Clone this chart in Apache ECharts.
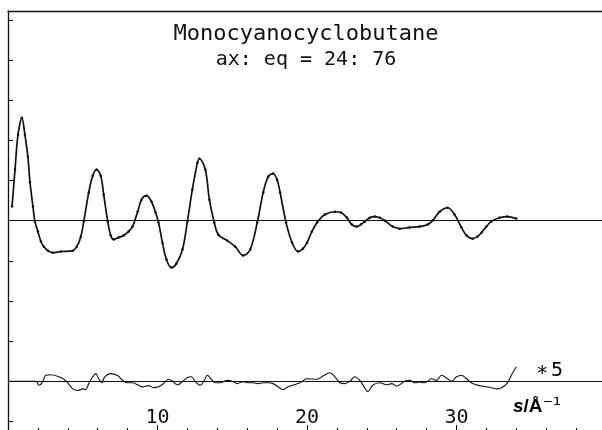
<!DOCTYPE html>
<html>
<head>
<meta charset="utf-8">
<script src="https://cdn.jsdelivr.net/npm/echarts@6/dist/echarts.min.js"></script>
<style>
  html, body { margin: 0; padding: 0; background: #fff; }
  #main { width: 602px; height: 430px; }
</style>
</head>
<body>
<div id="main"></div>
<script>
// molecular intensity, experimental curve (s in 1/Angstrom, intensity in tick units)
var mainS = [0.27,0.47,0.67,0.93,1.13,1.33,1.47,1.67,1.8,2.0,2.2,2.4,2.67,3.0,3.53,4.33,4.6,4.87,5.07,5.4,
  5.67,5.93,6.2,6.4,6.67,6.87,7.07,7.4,7.73,8.07,8.33,8.67,8.93,9.27,9.6,9.87,10.07,10.33,10.6,10.93,
  11.27,11.67,12.0,12.33,12.67,12.8,13.2,13.47,13.8,14.07,14.67,15.2,15.73,16.2,16.67,17.07,17.4,17.73,18.0,18.2,
  18.6,19.0,19.4,19.73,20.0,20.33,20.67,21.2,21.87,22.27,22.67,23.0,23.33,23.6,23.87,24.2,24.53,24.87,25.2,25.73,
  26.2,26.87,27.53,28.07,28.4,28.87,29.4,29.87,30.33,30.67,31.07,31.4,31.67,32.0,32.33,32.87,33.4,34.0];
var mainI = [0.35,1.27,2.14,2.56,2.14,1.59,0.95,0.35,-0.02,-0.27,-0.52,-0.65,-0.75,-0.8,-0.77,-0.75,-0.65,-0.4,-0.02,0.7,
  1.12,1.27,1.12,0.65,-0.02,-0.37,-0.47,-0.42,-0.37,-0.27,-0.15,0.22,0.52,0.62,0.47,0.2,-0.05,-0.55,-0.97,-1.17,
  -1.07,-0.72,-0.02,0.77,1.44,1.54,1.27,0.52,-0.05,-0.35,-0.5,-0.65,-0.87,-0.72,-0.05,0.7,1.09,1.17,1.02,0.7,
  -0.05,-0.55,-0.77,-0.7,-0.55,-0.27,-0.05,0.15,0.22,0.2,0.07,-0.1,-0.15,-0.1,-0.02,0.07,0.1,0.07,0,-0.15,
  -0.2,-0.17,-0.15,-0.1,0,0.22,0.32,0.15,-0.17,-0.37,-0.45,-0.4,-0.3,-0.15,-0.02,0.07,0.1,0.05];

// difference curve (x5)
var residS = [0.07,1.87,2.07,2.33,2.53,2.87,3.4,3.73,4.0,4.33,4.67,5.0,5.2,5.4,5.67,5.87,6.07,6.27,6.47,6.87,
  7.33,7.67,8.0,8.33,8.67,9.0,9.4,9.73,10.07,10.4,10.73,11.0,11.33,11.67,12.0,12.27,12.53,12.87,13.13,13.33,
  13.6,13.87,14.2,14.67,15.0,15.33,15.73,16.07,16.4,16.73,17.07,17.4,17.73,18.07,18.4,18.73,19.07,19.53,20.0,20.67,
  21.07,21.53,21.87,22.2,22.53,22.87,23.2,23.53,23.87,24.07,24.4,24.87,25.33,25.67,26.0,26.2,26.53,26.87,27.2,27.53,
  27.87,28.33,28.67,29.0,29.33,29.67,30.0,30.33,30.67,31.07,31.67,32.2,32.73,33.07,33.4,33.73,34.0];
var residI = [0,0,-0.1,-0.01,0.15,0.16,0.11,0.05,-0.04,-0.19,-0.23,-0.19,-0.21,-0.06,0.11,0.19,0.06,-0.04,0.11,0.19,
  0.14,0.02,-0.04,-0.04,-0.09,-0.14,-0.11,-0.16,-0.14,-0.06,0.05,0,-0.09,-0.01,0.09,0.11,-0.01,-0.1,0.02,0.15,
  0.05,-0.04,-0.04,0.02,0,-0.06,-0.01,-0.04,-0.04,-0.06,-0.04,-0.04,-0.06,-0.14,-0.21,-0.14,-0.1,-0.04,0.06,0.05,
  0.13,0.21,0.11,-0.04,-0.06,0,0.11,0.02,-0.17,-0.26,-0.1,-0.04,-0.09,-0.06,-0.12,-0.09,0,0.02,-0.04,-0.02,
  -0.04,0.06,0.02,0.15,0.08,0,0.11,0.15,0.06,-0.06,-0.12,-0.15,-0.19,-0.15,-0.04,0.19,0.36];

var xMajorLabels = [10, 20, 30];

function pairs(xs, ys) {
  var out = [];
  for (var i = 0; i < xs.length; i++) out.push([xs[i], ys[i]]);
  return out;
}

var MONO = '"DejaVu Sans Mono", monospace';
var ink = '#111';

var chart = echarts.init(document.getElementById('main'));
var option = {
  backgroundColor: '#fff',
  animation: false,
  title: {
    text: 'Monocyanocyclobutane',
    subtext: 'ax: eq = 24: 76',
    left: 306,
    top: 23,
    textAlign: 'center',
    itemGap: 5,
    padding: 0,
    textStyle: { fontFamily: MONO, fontSize: 22, fontWeight: 'normal', color: ink },
    subtextStyle: { fontFamily: MONO, fontSize: 20, color: ink }
  },
  grid: { left: 8, right: -4, top: 11, bottom: -1, outerBoundsMode: 'none', containLabel: false },
  xAxis: [
    {
      type: 'value', position: 'bottom', min: 0, max: 40, interval: 10,
      axisLine: { show: true, onZero: false, lineStyle: { color: ink, width: 1.3 } },
      axisTick: { show: true, inside: true, length: 6, lineStyle: { color: ink, width: 1 } },
      minorTick: { show: true, splitNumber: 5, length: 3, lineStyle: { color: ink, width: 1 } },
      axisLabel: {
        inside: true, margin: 3, fontFamily: MONO, fontSize: 20, color: ink,
        formatter: function (v) { return xMajorLabels.indexOf(v) >= 0 ? String(v) : ''; }
      },
      splitLine: { show: false }
    },
    {
      type: 'value', position: 'top', min: 0, max: 40,
      axisLine: { show: true, onZero: false, lineStyle: { color: ink, width: 1.3 } },
      axisTick: { show: false }, axisLabel: { show: false }, splitLine: { show: false }
    }
  ],
  yAxis: [
    {
      type: 'value', min: -5.24, max: 5.22, splitNumber: 10,
      axisLine: { show: true, onZero: false, lineStyle: { color: ink, width: 1.3 } },
      axisTick: { show: true, inside: true, length: 5, lineStyle: { color: ink, width: 1 } },
      axisLabel: { show: false },
      splitLine: { show: false }
    },
    {
      type: 'value', min: -1.24, max: 9.22, show: false,
      axisLine: { show: false }, axisTick: { show: false }, axisLabel: { show: false },
      splitLine: { show: false }
    }
  ],
  graphic: [
    {
      type: 'text', left: 536, top: 361,
      style: {
        text: '{a|∗}{b|5}',
        rich: {
          a: { fontFamily: MONO, fontSize: 20, color: ink, padding: [0, 3, 0, 0] },
          b: { fontFamily: MONO, fontSize: 20, color: ink }
        }
      }
    },
    {
      type: 'text', left: 513, top: 397,
      style: {
        text: '{a|s}{b|/Å}{c|⁻¹}',
        rich: {
          a: { fontFamily: '"Liberation Sans", Arial', fontSize: 19, fontWeight: 'bold', fontStyle: 'italic', color: ink },
          b: { fontFamily: '"Liberation Sans", Arial', fontSize: 19, fontWeight: 'bold', color: ink },
          c: { fontFamily: '"DejaVu Sans", sans-serif', fontSize: 20, color: ink }
        }
      }
    }
  ],
  series: [
    {
      name: 'experimental',
      type: 'line',
      xAxisIndex: 0, yAxisIndex: 0,
      data: pairs(mainS, mainI),
      smooth: 0.35,
      symbol: 'circle', symbolSize: 2.5, showAllSymbol: true,
      itemStyle: { color: ink },
      lineStyle: { color: ink, width: 1.7 },
      markLine: {
        silent: true, symbol: 'none', label: { show: false },
        lineStyle: { color: ink, width: 1, type: 'solid' },
        data: [{ yAxis: 0 }]
      },
      z: 3
    },
    {
      name: 'difference',
      type: 'line',
      xAxisIndex: 0, yAxisIndex: 1,
      data: pairs(residS, residI),
      smooth: 0.35,
      showSymbol: false,
      lineStyle: { color: ink, width: 1.1 },
      markLine: {
        silent: true, symbol: 'none', label: { show: false },
        lineStyle: { color: ink, width: 1, type: 'solid' },
        data: [{ yAxis: 0 }]
      },
      z: 3
    }
  ]
};
chart.setOption(option);
</script>
</body>
</html>
